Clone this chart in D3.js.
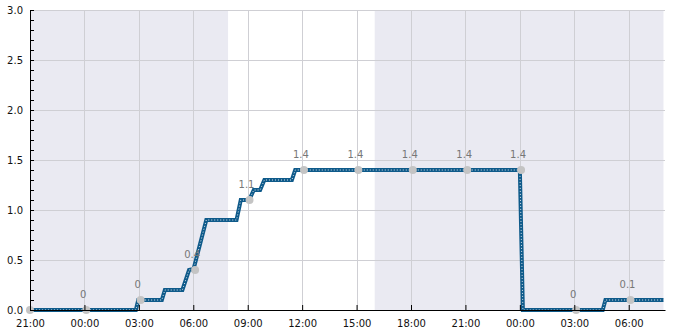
<!DOCTYPE html>
<html>
<head>
<meta charset="utf-8">
<script src="https://cdn.jsdelivr.net/npm/d3@7"></script>
<style>
  body { margin: 0; background: #fff; }
  svg { display: block; font-family: "DejaVu Sans", sans-serif; }
</style>
</head>
<body>
<script>
// step series: time (day hh:mm) and value
const times = ["1 21:00", "2 02:50", "2 02:58", "2 04:16", "2 04:26", "2 05:24", "2 05:46", "2 06:01",
    "2 06:43", "2 08:23", "2 08:37", "2 09:05", "2 09:20", "2 09:41", "2 09:55", "2 11:26", "2 11:37",
    "3 00:00", "3 00:10", "3 04:34", "3 04:43", "3 07:55"]
const values = [0, 0, 0.1, 0.1, 0.2, 0.2, 0.4, 0.41,
    0.9, 0.9, 1.1, 1.1, 1.2, 1.2, 1.3, 1.3, 1.4,
    1.4, 0, 0, 0.1, 0.1]

// labelled sample points
const pointTimes = ["1 21:00", "2 00:06", "2 03:06", "2 06:06", "2 09:06", "2 12:06", "2 15:06", "2 18:06",
    "2 21:06", "3 00:04", "3 03:06", "3 06:06"]
const pointValues = [0, 0, 0.1, 0.4, 1.1, 1.4, 1.4, 1.4, 1.4, 1.4, 0, 0.1]
const pointLabels = ["", "0", "0", "0.4", "1.1", "1.4", "1.4", "1.4", "1.4", "1.4", "0", "0.1"]

// night shading (sunset -> sunrise)
const nightStart = ["1 21:00", "2 16:00"]
const nightEnd = ["2 07:55", "3 07:55"]

const domainX = ["1 21:00", "3 08:00"]
const yTicks = [0, 0.5, 1.0, 1.5, 2.0, 2.5, 3.0]

const width = 685
const height = 330
const margin = { left: 30, right: 20, top: 10, bottom: 20 }

const parse = d3.timeParse("%d %H:%M")

const svg = d3.select("body")
    .append("svg")
    .attr("width", width)
    .attr("height", height)

const x = d3.scaleTime()
    .domain(domainX.map(parse))
    .range([margin.left, width - margin.right])

const y = d3.scaleLinear()
    .domain([0, 3])
    .range([height - margin.bottom, margin.top])

// shaded night regions
svg.append("g")
    .selectAll("rect")
    .data(nightStart.map((s, i) => [parse(s), parse(nightEnd[i])]))
    .enter().append("rect")
    .attr("x", d => x(d[0]))
    .attr("y", y(3))
    .attr("width", d => x(d[1]) - x(d[0]))
    .attr("height", y(0) - y(3))
    .attr("fill", "#eaeaf2")

const xTicks = x.ticks(d3.timeHour.every(3))

// grid
const grid = svg.append("g")
    .attr("stroke", "#cfcfd4")
    .attr("stroke-width", 1)

grid.selectAll(".gx")
    .data(xTicks)
    .enter().append("line")
    .attr("x1", d => Math.round(x(d)) + 0.5)
    .attr("x2", d => Math.round(x(d)) + 0.5)
    .attr("y1", y(3))
    .attr("y2", y(0))

grid.selectAll(".gy")
    .data(yTicks)
    .enter().append("line")
    .attr("x1", x.range()[0])
    .attr("x2", x.range()[1])
    .attr("y1", d => Math.round(y(d)) + 0.5)
    .attr("y2", d => Math.round(y(d)) + 0.5)

// the step line
const series = times.map((t, i) => [parse(t), values[i]])

const line = d3.line()
    .x(d => x(d[0]))
    .y(d => y(d[1]))

svg.append("path")
    .datum(series)
    .attr("d", line)
    .attr("fill", "none")
    .attr("stroke", "#0e5a8a")
    .attr("stroke-width", 4)

svg.append("path")
    .datum(series)
    .attr("d", line)
    .attr("fill", "none")
    .attr("stroke", "#dfe6ee")
    .attr("stroke-width", 1)
    .attr("stroke-dasharray", "1,2")

// sample points and labels
const points = pointTimes.map((t, i) => ({ t: parse(t), v: pointValues[i], label: pointLabels[i] }))

svg.append("g")
    .selectAll("circle")
    .data(points)
    .enter().append("circle")
    .attr("cx", d => x(d.t))
    .attr("cy", d => y(d.v))
    .attr("r", 4)
    .attr("fill", "#c4c4c4")

svg.append("g")
    .selectAll("text")
    .data(points)
    .enter().append("text")
    .attr("x", d => x(d.t) - 3)
    .attr("y", d => y(d.v) - 12)
    .attr("text-anchor", "middle")
    .attr("font-size", 10)
    .attr("fill", "#777")
    .text(d => d.label)

// axes
const xAxis = d3.axisBottom(x)
    .tickValues(xTicks)
    .tickFormat(d3.timeFormat("%H:%M"))
    .tickSizeInner(-5)
    .tickSizeOuter(0)
    .tickPadding(10)

const gx = svg.append("g")
    .attr("transform", `translate(0,${y(0)})`)
    .call(xAxis)
gx.selectAll("text").attr("font-size", 10).attr("fill", "#111").attr("font-family", "DejaVu Sans")
gx.select(".domain").attr("stroke", "#000")

const yAxis = d3.axisLeft(y)
    .tickValues(d3.range(0, 31).map(d => d / 10))
    .tickFormat(d => yTicks.includes(d) ? d3.format(".1f")(d) : "")
    .tickSizeInner(-4)
    .tickSizeOuter(0)
    .tickPadding(7)

const gy = svg.append("g")
    .attr("transform", `translate(${x.range()[0]},0)`)
    .call(yAxis)
gy.selectAll("text").attr("font-size", 10).attr("fill", "#111").attr("font-family", "DejaVu Sans")
gy.select(".domain").attr("stroke", "#000")
</script>
</body>
</html>
